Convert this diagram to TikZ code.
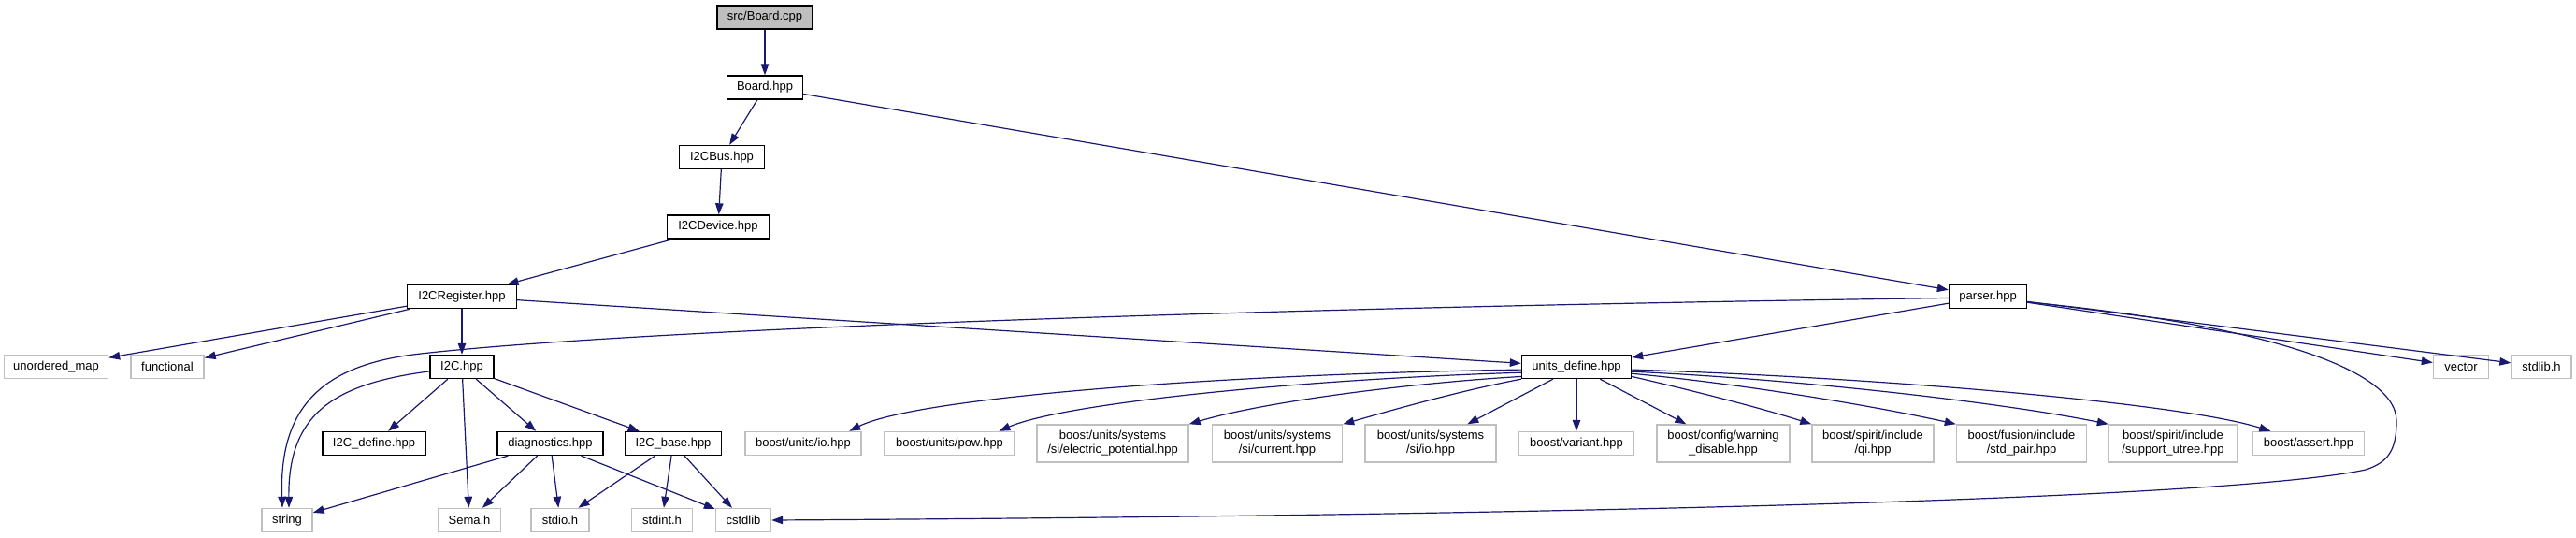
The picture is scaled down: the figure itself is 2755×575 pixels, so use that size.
\documentclass[tikz,border=0pt]{standalone}
\usepackage{fontspec}
\setmainfont{Liberation Sans}
\usepackage{tikz}
\usetikzlibrary{arrows.meta}
\definecolor{edgeblue}{HTML}{191970}
\definecolor{extgray}{HTML}{BFBFBF}

\begin{document}
\begin{tikzpicture}[x=1pt, y=-1pt,
  every node/.style={font=\fontsize{13}{15}\selectfont, inner sep=0pt, minimum height=25pt, align=center},
  hdr/.style={rectangle, draw=black, line width=1.4pt, fill=white},
  sys/.style={rectangle, draw=extgray, line width=1.4pt, fill=white},
  root/.style={rectangle, draw=black, line width=1.4pt, fill=extgray},
  dep/.style={-{Triangle[length=12pt,width=8.5pt]}, line width=1.2pt, draw=edgeblue},
]
  \useasboundingbox (0,0) rectangle (2755,575);

  \node[root,minimum width=102pt] (cpp) at (818,18.5) {src/Board.cpp};
  \node[hdr,minimum width=81pt] (board) at (818,93.5) {Board.hpp};
  \node[hdr,minimum width=91pt] (bus) at (772,168) {I2CBus.hpp};
  \node[hdr,minimum width=109pt] (dev) at (768,242.5) {I2CDevice.hpp};
  \node[hdr,minimum width=117pt] (reg) at (494,317) {I2CRegister.hpp};
  \node[hdr,minimum width=83pt] (parser) at (2126,317) {parser.hpp};

  \node[sys,minimum width=111pt] (umap) at (60,392) {unordered\_map};
  \node[sys,minimum width=78pt] (func) at (179,392) {functional};
  \node[hdr,minimum width=68pt] (itc) at (494,392) {I2C.hpp};
  \node[hdr,minimum width=117pt] (units) at (1686,392) {units\_define.hpp};
  \node[sys,minimum width=59pt] (vec) at (2632,392) {vector};
  \node[sys,minimum width=64pt] (stdlibh) at (2718,392) {stdlib.h};

  \node[hdr,minimum width=110pt] (idef) at (400,474) {I2C\_define.hpp};
  \node[hdr,minimum width=113pt] (diag) at (588.5,474) {diagnostics.hpp};
  \node[hdr,minimum width=103pt] (ibase) at (720,474) {I2C\_base.hpp};
  \node[sys,minimum width=124pt] (uio) at (859,474) {boost/units/io.hpp};
  \node[sys,minimum width=139pt] (upow) at (1015.5,474) {boost/units/pow.hpp};
  \node[sys,minimum width=162pt,minimum height=40pt] (uep) at (1190,474) {boost/units/systems\\/si/electric\_potential.hpp};
  \node[sys,minimum width=139pt,minimum height=40pt] (ucur) at (1366,474) {boost/units/systems\\/si/current.hpp};
  \node[sys,minimum width=140pt,minimum height=40pt] (usio) at (1530,474) {boost/units/systems\\/si/io.hpp};
  \node[sys,minimum width=123pt] (variant) at (1686,474) {boost/variant.hpp};
  \node[sys,minimum width=142pt,minimum height=40pt] (warn) at (1843,474) {boost/config/warning\\\_disable.hpp};
  \node[sys,minimum width=130pt,minimum height=40pt] (qi) at (2003,474) {boost/spirit/include\\/qi.hpp};
  \node[sys,minimum width=139pt,minimum height=40pt] (pair) at (2162,474) {boost/fusion/include\\/std\_pair.hpp};
  \node[sys,minimum width=137pt,minimum height=40pt] (utree) at (2324,474) {boost/spirit/include\\/support\_utree.hpp};
  \node[sys,minimum width=119pt] (assert) at (2469,474) {boost/assert.hpp};

  \node[sys,minimum width=54pt] (str) at (307,556) {string};
  \node[sys,minimum width=67pt] (sema) at (502,556) {Sema.h};
  \node[sys,minimum width=62pt] (stdio) at (599,556) {stdio.h};
  \node[sys,minimum width=65pt] (stdint) at (708,556) {stdint.h};
  \node[sys,minimum width=59pt] (cstdlib) at (795,556) {cstdlib};

  \draw[dep] (cpp) -- (board);
  \draw[dep] (board) -- (bus);
  \draw[dep] (board) -- (parser);
  \draw[dep] (bus) -- (dev);
  \draw[dep] (dev) -- (reg);

  \draw[dep] (reg) -- (umap);
  \draw[dep] (reg) -- (func);
  \draw[dep] (reg) -- (itc);
  \draw[dep] (reg) -- (units);

  \draw[dep] (parser) -- (units);
  \draw[dep] (parser) -- (vec);
  \draw[dep] (parser) -- (stdlibh);
  \draw[dep] (parser.182) .. controls (1400,328) and (700,350) .. (450,378)
    .. controls (350,389) and (298,430) .. ([xshift=-5pt]str.north);
  \draw[dep] (parser.352) .. controls (2400,345) and (2563,390) .. (2563,450)
    .. controls (2563,480) and (2555,494) .. (2530,502)
    .. controls (2400,530) and (1800,550) .. (cstdlib.east);

  \draw[dep] (itc.188) .. controls (360,410) and (308,440) .. ([xshift=2pt]str.north);
  \draw[dep] (itc) -- (idef);
  \draw[dep] (itc) -- (sema);
  \draw[dep] (itc) -- (diag);
  \draw[dep] (itc) -- (ibase);

  \draw[dep] (diag) -- (str);
  \draw[dep] (diag) -- (sema);
  \draw[dep] (diag) -- (stdio);
  \draw[dep] (diag) -- (cstdlib);
  \draw[dep] (ibase) -- (stdio);
  \draw[dep] (ibase) -- (stdint);
  \draw[dep] (ibase) -- (cstdlib);

  \draw[dep] (units.183) .. controls (1300,400) and (980,425) .. (uio.15);
  \draw[dep] (units.186) .. controls (1400,405) and (1140,430) .. (upow.14);
  \draw[dep] (units.190) .. controls (1500,410) and (1350,430) .. (uep.north east);
  \draw[dep] (units.south west) .. controls (1560,418) and (1490,438) .. (ucur.north east);
  \draw[dep] (units) -- (usio);
  \draw[dep] (units) -- (variant);
  \draw[dep] (units) -- (warn);
  \draw[dep] (units.-10) .. controls (1800,415) and (1880,435) .. (qi.north west);
  \draw[dep] (units.-7) .. controls (1860,410) and (2000,433) .. (pair.north west);
  \draw[dep] (units.-5) .. controls (1920,405) and (2140,430) .. (utree.north west);
  \draw[dep] (units.-3) .. controls (2000,403) and (2330,430) .. (assert.162);
\end{tikzpicture}
\end{document}
